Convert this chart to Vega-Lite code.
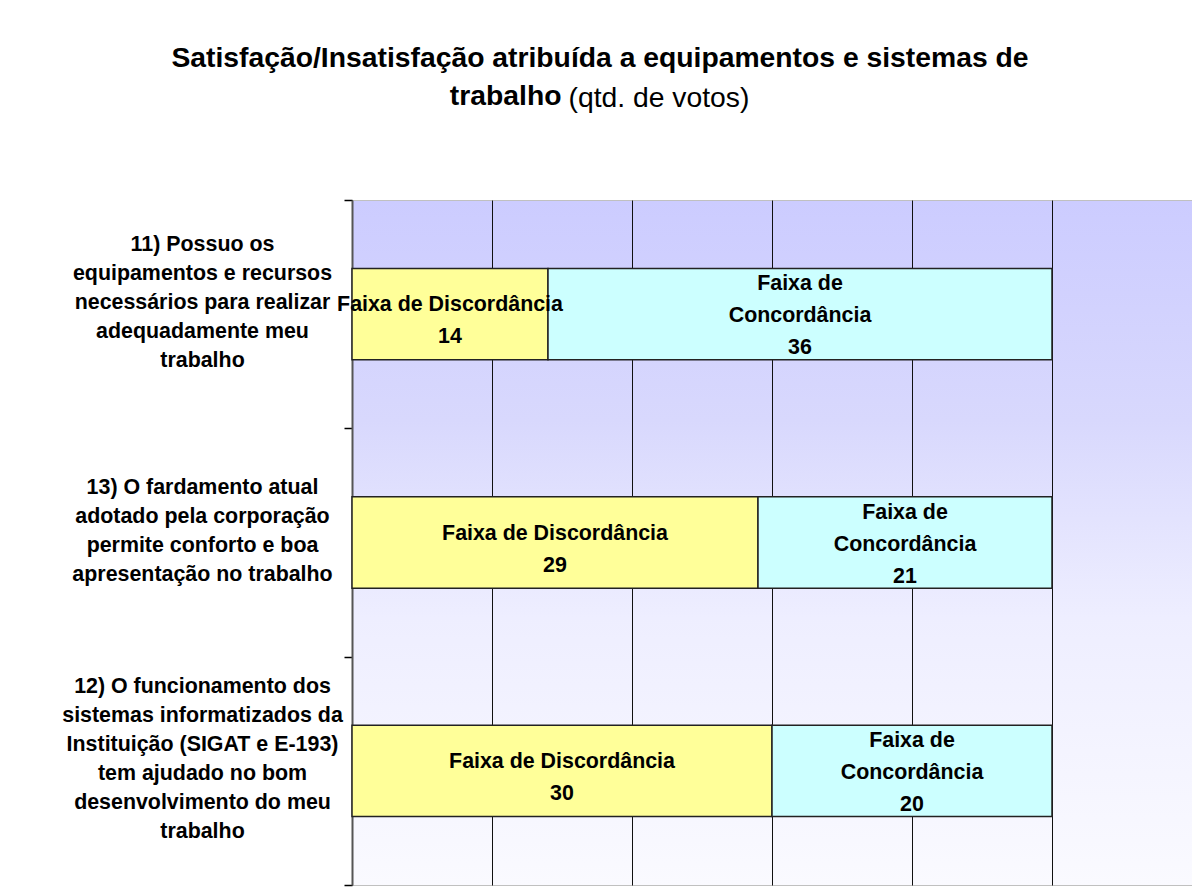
{
  "$schema": "https://vega.github.io/schema/vega-lite/v6.json",
  "width": 840,
  "height": 685,
  "autosize": {"type": "none"},
  "padding": {"left": 352, "top": 200, "right": 0, "bottom": 8},
  "background": "white",
  "title": {
    "text": ["Satisfação/Insatisfação atribuída a equipamentos e sistemas de", "trabalho\u00a0\u00a0\u00a0\u00a0\u00a0\u00a0\u00a0\u00a0\u00a0\u00a0\u00a0\u00a0\u00a0\u00a0\u00a0\u00a0\u00a0\u00a0\u00a0\u00a0\u00a0\u00a0\u00a0\u00a0\u200b"],
    "subtitle": "\u200b\u00a0\u00a0\u00a0\u00a0\u00a0\u00a0\u00a0\u00a0\u00a0\u00a0\u00a0\u00a0\u00a0\u00a0\u00a0(qtd. de votos)",
    "anchor": "middle",
    "frame": "group",
    "dx": -172,
    "offset": 76,
    "font": "Liberation Sans",
    "fontSize": 28.3,
    "fontWeight": "bold",
    "color": "#000000",
    "lineHeight": 38,
    "subtitleFont": "Liberation Sans",
    "subtitleFontSize": 28.3,
    "subtitleFontWeight": "normal",
    "subtitleColor": "#000000",
    "subtitlePadding": -27
  },
  "data": {
    "values": [
      {"pergunta": "11) Possuo os\nequipamentos e recursos\nnecessários para realizar\nadequadamente meu\ntrabalho", "faixa": "Discordância", "rotulo": "Faixa de Discordância", "votos": 14},
      {"pergunta": "11) Possuo os\nequipamentos e recursos\nnecessários para realizar\nadequadamente meu\ntrabalho", "faixa": "Concordância", "rotulo": "Faixa de\nConcordância", "votos": 36},
      {"pergunta": "13) O fardamento atual\nadotado pela corporação\npermite conforto e boa\napresentação no trabalho", "faixa": "Discordância", "rotulo": "Faixa de Discordância", "votos": 29},
      {"pergunta": "13) O fardamento atual\nadotado pela corporação\npermite conforto e boa\napresentação no trabalho", "faixa": "Concordância", "rotulo": "Faixa de\nConcordância", "votos": 21},
      {"pergunta": "12) O funcionamento dos\nsistemas informatizados da\nInstituição (SIGAT e E-193)\ntem ajudado no bom\ndesenvolvimento do meu\ntrabalho", "faixa": "Discordância", "rotulo": "Faixa de Discordância", "votos": 30},
      {"pergunta": "12) O funcionamento dos\nsistemas informatizados da\nInstituição (SIGAT e E-193)\ntem ajudado no bom\ndesenvolvimento do meu\ntrabalho", "faixa": "Concordância", "rotulo": "Faixa de\nConcordância", "votos": 20}
    ]
  },
  "transform": [
    {"stack": "votos", "groupby": ["pergunta"], "sort": [{"field": "faixa", "order": "descending"}], "as": ["x0", "x1"]},
    {"calculate": "(datum.x0 + datum.x1) / 2", "as": "meio"},
    {"calculate": "datum.rotulo + '\\n' + datum.votos", "as": "texto"}
  ],
  "encoding": {
    "y": {
      "field": "pergunta",
      "type": "nominal",
      "sort": null,
      "scale": {"paddingInner": 0, "paddingOuter": 0},
      "axis": {
        "title": null,
        "tickBand": "extent",
        "tickSize": 8,
        "tickColor": "#000000",
        "tickWidth": 1.5,
        "domainColor": "#555555",
        "domainWidth": 2,
        "labelFont": "Liberation Sans",
        "labelFontSize": 21.4,
        "labelFontWeight": "bold",
        "labelColor": "#000000",
        "labelAlign": "center",
        "labelBaseline": "middle",
        "labelPadding": 142,
        "labelLineHeight": 29,
        "labelExpr": "split(datum.label, '\\n')",
        "labelOffset": {"expr": "-(length(split(datum.value, '\\n')) - 1) * 14.5 - 12"},
        "labelLimit": 0,
        "labelOverlap": false,
        "labelBound": false,
        "grid": false
      }
    }
  },
  "layer": [
    {
      "mark": {"type": "bar", "height": {"band": 0.4}, "stroke": "#222222", "strokeWidth": 1.5},
      "encoding": {
        "x": {
          "field": "x0",
          "type": "quantitative",
          "scale": {"domain": [0, 60], "nice": false, "zero": true},
          "axis": {"values": [0, 10, 20, 30, 40, 50], "grid": true, "gridColor": "#111111", "gridWidth": 1, "gridOpacity": 1, "labels": false, "ticks": false, "domain": false, "title": null}
        },
        "x2": {"field": "x1"},
        "color": {
          "field": "faixa",
          "type": "nominal",
          "scale": {"domain": ["Discordância", "Concordância"], "range": ["#FFFF99", "#CCFFFF"]},
          "legend": null
        }
      }
    },
    {
      "transform": [{"filter": "datum.faixa === 'Discordância'"}],
      "mark": {"type": "text", "font": "Liberation Sans", "fontSize": 21.4, "fontWeight": "bold", "color": "#000000", "lineBreak": "\n", "lineHeight": 32, "baseline": "middle", "align": "center", "dy": -9},
      "encoding": {
        "x": {"field": "meio", "type": "quantitative"},
        "text": {"field": "texto", "type": "nominal"}
      }
    },
    {
      "transform": [{"filter": "datum.faixa === 'Concordância'"}],
      "mark": {"type": "text", "font": "Liberation Sans", "fontSize": 21.4, "fontWeight": "bold", "color": "#000000", "lineBreak": "\n", "lineHeight": 32, "baseline": "middle", "align": "center", "dy": -30},
      "encoding": {
        "x": {"field": "meio", "type": "quantitative"},
        "text": {"field": "texto", "type": "nominal"}
      }
    }
  ],
  "config": {
    "view": {
      "stroke": "#c0c0c0",
      "strokeWidth": 1,
      "fill": {
        "gradient": "linear",
        "x1": 0, "y1": 0, "x2": 0, "y2": 1,
        "stops": [
          {"offset": 0, "color": "#CCCCFF"},
          {"offset": 0.32, "color": "#D8D8FD"},
          {"offset": 0.61, "color": "#EEEEFF"},
          {"offset": 1, "color": "#FAFAFF"}
        ]
      }
    }
  }
}
